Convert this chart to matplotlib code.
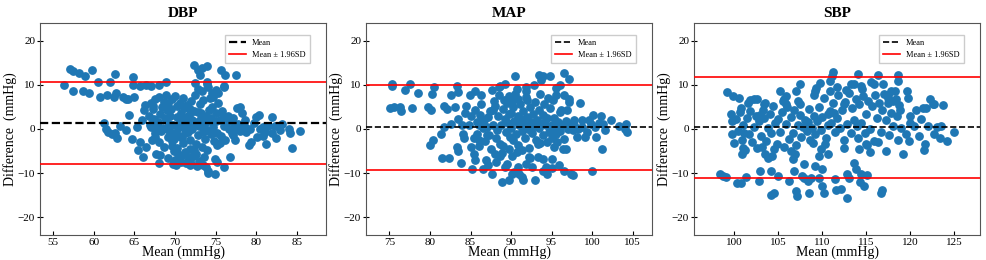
import matplotlib
matplotlib.use("Agg")
import matplotlib.pyplot as plt
import numpy as np

plt.rcParams['font.family'] = ['Liberation Serif', 'DejaVu Serif']

# Bland-Altman points: (mean, difference)
dbp_points = [
    (56.3, 9.9), (57.1, 13.5), (57.5, 13.2), (57.5, 8.6), (58.2, 12.6), (58.7, 8.6),
    (58.9, 12.0), (59.4, 8.2), (59.8, 13.3), (60.5, 10.7), (60.8, 7.3), (61.6, 7.7),
    (62.0, 10.7), (62.6, 12.4), (62.5, 7.2), (62.8, 8.1), (63.6, 7.3), (64.0, 6.9),
    (64.2, 6.7), (64.9, 9.9), (64.9, 11.8), (65.0, 7.2), (65.7, 9.7), (64.3, 3.2),
    (61.3, 1.3), (61.5, -0.1), (61.8, -0.7), (62.2, -1.2), (62.6, -1.0), (62.9, -2.0),
    (63.3, 0.6), (64.0, -0.3), (64.7, -2.2), (65.3, 0.5), (65.4, -4.8), (65.7, -2.9),
    (66.1, -6.3), (66.5, -4.1), (66.0, 2.0), (66.2, 4.3), (66.3, 5.4), (66.5, 9.9),
    (67.1, 9.7), (67.3, 5.1), (67.3, 1.6), (67.1, 0.5), (67.5, -1.8), (67.7, -5.7),
    (68.1, -7.7), (68.1, 9.9), (68.9, 10.7), (69.8, -7.9), (67.9, 0.5),
    (72.3, 14.5), (72.9, 13.4), (73.3, 13.7), (74.0, 14.3), (73.1, 12.2), (72.5, 10.5),
    (73.9, 10.7), (74.1, 9.4), (73.3, 8.5), (74.7, 7.2), (75.0, 8.8), (75.3, 8.2),
    (75.7, 13.4), (76.2, 12.2), (77.5, 12.3), (76.0, 9.7),
    (78.0, 5.0), (78.3, 3.6), (78.6, 2.0), (78.8, -0.7), (79.1, -3.7), (79.4, -2.9),
    (80.0, 2.7), (80.3, 3.2), (80.1, -1.8), (80.5, 0.1), (80.9, 0.5), (81.1, -0.6),
    (81.2, -3.5), (81.9, 2.8), (81.9, -0.9), (82.3, 0.6), (82.5, -2.0), (82.9, -0.2),
    (83.2, 1.1), (84.0, 0.1), (84.2, -1.0), (84.4, -4.4), (85.4, -0.4), (81.5, 0.7),
    (80.9, -1.6), (79.7, 1.3), (79.3, -0.1), (78.6, 0.5), (78.2, 0.9), (77.7, 0.1),
    (77.2, -1.4), (77.4, -2.5), (76.8, -6.3), (76.0, -8.5), (75.2, -7.4), (75.2, -3.6),
    (75.6, -3.2), (74.9, -10.1), (74.1, -10.0), (73.5, -8.2), (73.1, -7.8), (71.9, -8.2),
    (70.1, -8.2),
    (66.8, 3.0), (67.0, 6.0), (67.2, -2.5), (67.4, 2.2), (66.9, 0.8), (67.3, 4.5),
    (67.6, -1.0), (67.5, 6.8), (68.0, 7.2), (68.2, 3.5), (67.9, 1.5), (68.3, -0.5),
    (68.1, -3.0), (68.4, 5.0), (68.5, 0.3), (68.6, 6.2), (68.2, -5.8), (68.8, 2.5),
    (69.0, 4.2), (68.9, 7.8), (69.1, -1.8), (69.0, 0.0), (68.7, -4.0), (69.2, 5.8),
    (69.3, 1.2), (69.1, -6.5), (69.4, 3.0), (69.6, 6.8), (69.7, -2.8), (69.8, 1.0),
    (69.5, 4.6), (70.0, 7.5), (70.1, -0.8), (69.9, -5.0), (70.2, 2.8), (70.0, -7.0),
    (70.3, 5.2), (69.7, -3.8), (70.4, 0.3), (70.2, -4.3), (70.6, 6.0), (70.7, 3.6),
    (70.5, -1.5), (70.8, -6.0), (70.9, 1.8), (71.0, -3.2), (71.1, 4.8), (70.7, -7.4),
    (71.2, 0.2), (71.0, 7.0), (71.3, -5.3), (71.2, 2.6), (70.9, -2.0), (71.4, -7.8),
    (71.5, 5.5), (71.6, -0.6), (71.7, 3.2), (71.8, -4.6), (71.6, 1.0), (72.0, 6.4),
    (71.9, -2.6), (72.1, 2.0), (72.2, -6.2), (72.0, -8.0), (72.3, 4.0), (72.1, 0.0),
    (71.8, -7.0), (72.5, 7.6), (72.6, -3.4), (72.7, 1.5), (72.8, 3.8), (72.6, -5.6),
    (73.0, 0.6), (72.9, -1.4), (73.1, 5.6), (73.0, -7.2), (73.2, 2.4), (72.7, -8.4),
    (73.3, -4.0), (72.9, 9.0), (73.5, 6.6), (73.6, 0.9), (73.7, -2.2), (73.8, 3.0),
    (73.6, -6.4), (74.0, 10.2), (73.9, -0.2), (74.1, 1.8), (74.0, -4.8), (74.2, 4.4),
    (73.8, -8.6), (74.3, 7.0), (74.1, -9.5), (74.4, -1.2), (74.5, 2.6), (74.6, 5.0),
    (74.7, 0.4), (74.8, -2.8), (75.0, 1.8), (74.9, -6.8), (75.1, 3.6), (75.2, -0.8),
    (74.6, 8.2), (75.3, 6.0), (75.5, 2.0), (75.7, -1.5), (75.8, 4.0), (76.0, 0.6),
    (76.1, 9.6), (75.9, 2.8), (76.2, -2.4), (76.3, 1.4), (76.5, 3.0), (76.7, 0.0),
    (76.9, 1.8), (77.0, -1.0), (77.2, 2.4), (77.4, 0.8), (77.6, 4.8), (77.8, 1.2),
    (78.0, -0.4),
    (69.4, -0.6), (70.5, 1.2), (71.3, -1.0), (72.4, 1.0), (73.4, -0.6), (70.8, 3.0),
    (71.9, 4.6), (73.2, 3.6), (69.9, -2.2), (72.3, -4.8), (70.4, -5.6), (71.6, -6.4),
]

map_points = [
    (75.3, 10.3), (75.3, 9.7), (75.1, 4.8), (75.5, 5.0), (76.3, 5.0), (76.4, 4.1),
    (76.9, 8.8), (77.5, 10.1), (77.8, 4.8), (78.5, 8.2), (79.7, 5.0), (80.1, 4.2),
    (80.0, -3.7), (80.4, -2.4), (80.3, 7.9), (80.5, 9.4), (81.3, -1.1), (81.5, -6.5),
    (81.7, 0.5), (81.7, 5.1), (82.1, 4.6), (82.4, -6.5), (82.6, 1.2), (82.6, 7.8),
    (83.1, 5.0), (83.3, 9.7), (83.4, 8.4), (83.3, -4.1), (83.5, -5.0), (83.5, 2.3),
    (83.8, -7.7), (84.1, -1.1), (84.3, 3.6), (84.5, 5.1), (84.9, 7.6), (85.0, -4.1),
    (85.2, -9.0), (85.5, 8.6), (85.4, -5.7), (85.6, 4.2), (85.8, -1.1), (86.0, -2.6),
    (86.2, 3.1), (86.3, 7.6), (86.5, -9.0), (86.7, 2.1), (86.9, -7.1), (87.0, 0.5),
    (87.3, -1.4), (87.6, 8.9), (87.6, -10.1), (87.8, 4.2), (88.0, -5.6), (88.3, -0.3),
    (88.5, 7.6), (88.7, -3.3), (88.7, 9.7), (88.9, -12.0), (89.1, 6.5), (89.3, 10.3),
    (89.5, -8.0), (89.7, 3.5), (89.8, -11.6), (89.9, -1.8), (90.1, -10.1), (90.3, 6.5),
    (90.5, 11.9), (90.7, -5.2), (90.9, -8.6), (91.0, -10.1), (91.3, -10.9), (91.5, -11.6),
    (91.9, 9.4), (92.0, 6.5), (92.2, -6.3), (92.6, -8.6), (92.9, -11.6), (93.3, -6.3),
    (93.4, 12.2), (93.7, 11.0), (94.0, 11.9), (93.6, -3.2), (94.0, -9.4), (94.3, -8.6),
    (94.5, -10.1), (94.8, 11.9), (95.0, -8.8), (95.1, -6.7), (95.2, 6.5), (95.3, -4.1),
    (95.6, 7.6), (96.0, 9.9), (95.9, -8.2), (96.6, 12.7), (96.6, -9.4), (96.9, 4.4),
    (96.8, -4.5), (97.1, 6.9), (97.2, 11.4), (97.4, -10.1), (97.6, -10.5), (97.6, -0.3),
    (97.8, 2.0), (98.1, -1.8), (98.3, 0.1), (98.5, 5.9), (98.7, 2.0), (99.1, -1.8),
    (99.4, -0.7), (99.6, 2.1), (100.0, -9.5), (100.1, 3.1), (100.4, 0.5), (100.5, -1.8),
    (100.8, 1.4), (101.1, 2.9), (101.2, -4.5), (101.4, 1.2), (101.6, -0.3), (102.4, 2.1),
    (103.3, 0.6), (104.2, 1.1), (104.3, -0.7), (104.1, 0.1),
    (86.5, 0.2), (86.8, -2.8), (87.2, 2.8), (87.5, -4.5), (87.8, 1.0), (88.0, 5.2),
    (88.2, -2.0), (88.4, 3.0), (88.6, -6.0), (88.8, 0.8), (89.0, 4.6), (89.0, -3.8),
    (89.2, 2.2), (89.4, -0.6), (89.5, 6.0), (89.6, 1.4), (89.8, -4.6), (90.0, 3.6),
    (90.0, 0.2), (90.2, -2.6), (90.3, 5.0), (90.4, 1.8), (90.5, 8.0), (90.6, -1.2),
    (90.8, 3.0), (90.9, -3.6), (91.0, 0.8), (91.1, 5.6), (91.2, 2.2), (91.3, -0.4),
    (91.5, 4.0), (91.6, 1.2), (91.7, -2.0), (91.8, 7.2), (92.0, 2.8), (92.1, 0.0),
    (92.2, -4.2), (92.3, 5.0), (92.5, 1.6), (92.6, -1.0), (92.7, 3.4), (92.9, 0.6),
    (93.0, 6.2), (93.1, -2.4), (93.2, 2.0), (93.4, 4.4), (93.5, 0.2), (93.6, 8.0),
    (93.8, 1.4), (93.9, -1.4), (94.0, 3.2), (94.1, 5.6), (94.3, 0.8), (94.4, -3.0),
    (94.5, 2.4), (94.7, -0.6), (94.8, 4.8), (95.0, 1.0), (95.1, -2.0), (95.3, 2.6),
    (95.4, 0.2), (95.6, -1.2), (95.8, 1.6), (96.0, 3.8), (96.1, -0.4), (96.3, 0.9),
    (96.5, 7.6), (96.6, -2.2), (96.8, 1.8), (97.0, 0.0), (97.2, 6.2), (97.4, 1.2),
    (85.4, -2.0), (85.8, 1.6), (86.1, -3.8), (86.3, 5.6), (87.0, -1.4), (87.4, 4.0),
    (88.1, -7.5), (88.9, -5.5), (89.3, -8.5), (90.1, -6.2), (91.4, -4.8), (92.4, -6.6),
    (93.3, -3.4), (87.9, 6.4), (88.5, 9.5), (90.7, 9.0), (91.9, 8.6), (92.8, 10.0),
    (94.6, 7.0), (95.5, 9.2), (96.2, 4.4), (89.7, 7.4), (90.9, 6.8), (87.2, -8.2),
    (86.0, 0.8), (84.8, 1.0), (84.2, -2.0), (83.9, 0.8), (85.1, 3.0), (85.6, -7.0),
    (91.8, -8.0), (90.4, -9.8), (93.9, -6.8), (97.8, 0.8), (98.8, 0.4), (99.9, 1.2),
    (96.4, -4.5), (95.7, -3.0),
]

sbp_points = [
    (98.4, -10.2), (98.7, -10.6), (99.0, -10.8), (99.1, 8.4), (99.6, 3.3), (99.7, 1.8),
    (99.8, 7.4), (99.7, -1.2), (99.9, -3.1), (100.3, -12.3), (100.7, -12.3), (100.5, 7.1),
    (100.7, 4.8), (101.0, -4.2), (101.3, -10.8), (101.5, 5.9), (101.8, 6.5), (102.2, 6.7),
    (102.6, 6.7), (102.8, -11.7), (102.9, -9.5), (103.3, 5.6), (103.5, -5.7), (103.8, -6.5),
    (104.1, -9.5), (104.2, -15.0), (104.5, -14.6), (104.5, -4.6), (104.9, -10.6), (105.2, 8.6),
    (105.6, 6.7), (105.8, 5.6), (105.9, 7.4), (106.2, -11.7), (106.4, -5.0), (106.6, -6.8),
    (106.8, -9.5), (107.0, 8.6), (107.0, -14.1), (107.1, -15.1), (107.2, 6.3), (107.4, 10.1),
    (107.7, -10.6), (107.9, -8.0), (107.9, -11.0), (108.3, -11.7), (108.5, -14.4), (108.7, -11.0),
    (108.9, -3.1), (109.1, 8.7), (109.2, -8.3), (109.3, 9.3), (109.6, -11.0), (109.6, -6.1),
    (109.8, -4.6), (110.0, -9.1), (109.7, 10.5), (110.0, -12.9), (110.2, -14.4), (110.6, 3.3),
    (110.6, -5.7), (110.8, 8.6), (110.9, 10.8), (111.1, 12.0), (111.2, 13.0), (111.4, -11.4),
    (111.5, -13.9), (111.7, 9.5), (112.1, -13.5), (112.4, 5.6), (112.7, 8.9), (112.8, -10.2),
    (112.8, -15.6), (113.0, -11.0), (113.2, 10.1), (113.6, 10.2), (113.6, -7.6), (113.8, -9.1),
    (114.0, 12.5), (114.2, -4.6), (114.3, -12.1), (114.4, -10.2), (114.4, 9.7), (114.7, -12.9),
    (114.9, -3.5), (115.1, -10.4), (115.4, -5.3), (115.5, 10.7), (115.9, 10.1), (116.3, 12.2),
    (116.7, -14.4), (116.8, -13.9), (116.9, 10.2), (117.2, -5.0), (117.4, 7.1), (117.8, 8.7),
    (118.0, 6.3), (118.2, 8.6), (118.5, 2.9), (118.6, 12.2), (118.6, 10.8), (118.7, 5.4),
    (118.9, 0.2), (119.2, -5.7), (119.5, -1.2), (119.6, 8.7), (119.7, 7.1), (119.8, -2.7),
    (119.9, 2.9), (120.0, 1.4), (120.6, 4.4), (121.0, -1.6), (121.2, 2.2), (121.4, 4.8),
    (121.5, -4.8), (121.6, -3.3), (121.8, 4.8), (122.0, 0.7), (122.2, 6.9), (122.6, 5.7),
    (122.7, 5.7), (122.7, -1.1), (123.0, 0.5), (123.3, -2.0), (123.5, 0.7), (123.7, 5.4),
    (124.2, -2.7), (124.9, -0.6), (120.4, 0.7),
    (100.2, 2.2), (100.4, -0.4), (100.6, 3.8), (100.8, -2.6), (101.0, 1.0), (101.2, -4.8),
    (101.4, 2.6), (101.6, -1.2), (101.8, 4.0), (102.0, -3.0), (102.2, 0.4), (102.4, 3.0),
    (102.6, -4.4), (101.1, -0.8), (100.9, -5.6), (102.8, 1.8), (103.0, -1.6), (103.2, 4.2),
    (103.4, 2.6), (103.6, -2.8), (103.8, 0.2), (104.0, 3.4), (104.2, -1.0), (104.4, 5.2),
    (104.6, 1.4), (104.8, -3.4), (105.0, 2.2), (103.1, -4.0), (104.3, -6.2), (103.5, 6.0),
    (102.9, 3.2), (105.2, -0.6), (105.4, 3.8), (105.6, -4.0), (105.8, 1.2), (106.0, 5.0),
    (106.2, -2.2), (106.4, 2.8), (106.6, -0.8), (106.8, 4.4), (107.0, -3.6), (107.2, 1.0),
    (107.4, 3.2), (107.6, -1.8), (107.8, 0.4), (108.0, 2.0), (105.5, 6.4), (106.9, -5.6),
    (107.5, 5.6), (108.2, -0.4), (108.4, 1.6), (108.6, -2.6), (108.8, 0.2), (109.0, 3.0),
    (109.2, -1.2), (109.4, 1.8), (109.6, 5.0), (109.8, -0.2), (110.0, 2.8), (110.2, 7.0),
    (110.4, -2.0), (110.6, 0.8), (110.8, 4.0), (111.0, 1.4), (109.0, 7.8), (108.5, 4.6),
    (110.3, -3.4), (111.2, 6.0), (111.4, -0.6), (111.6, 2.4), (111.8, 7.6), (112.0, 0.2),
    (112.2, 4.4), (112.4, -2.4), (112.6, 6.2), (112.8, 1.2), (113.0, 8.2), (113.2, -0.8),
    (113.4, 4.8), (113.6, 2.0), (113.8, 6.8), (114.0, -2.0), (111.3, 3.6), (112.5, -4.2),
    (113.9, 0.6), (114.2, 5.6), (114.4, 1.4), (114.6, 7.4), (114.8, -1.0), (115.0, 3.4),
    (115.2, 6.4), (115.4, 0.0), (115.6, 5.2), (115.8, -2.8), (116.0, 7.8), (116.2, 2.6),
    (116.4, 6.0), (116.6, -0.6), (116.8, 4.4), (117.0, 8.0), (115.1, -3.6), (116.3, -3.0),
    (114.5, 9.0), (117.2, 2.0), (117.4, 5.8), (117.6, -1.4), (117.8, 3.6), (118.0, 0.6),
    (118.3, 6.8), (118.6, -2.6), (118.8, 4.2), (117.5, 7.6),
]

titles = ['DBP', 'MAP', 'SBP']
mean_diff = [1.4, 0.4, 0.5]
upper_loa = [10.7, 10.0, 11.8]
lower_loa = [-7.9, -9.2, -11.1]
x_limits = [(53.4, 88.6), (72.1, 107.4), (95.4, 127.9)]
x_ticks = [[55, 60, 65, 70, 75, 80, 85],
           [75, 80, 85, 90, 95, 100, 105],
           [100, 105, 110, 115, 120, 125]]
y_ticks = [-20, -10, 0, 10, 20]

fig = plt.figure(figsize=(9.86, 2.6), dpi=100)
lefts = [40/986, 366/986, 694/986]
all_points = [dbp_points, map_points, sbp_points]

for i in range(3):
    ax = fig.add_axes([lefts[i], 25/260, 286/986, 212/260])
    pts = np.array(all_points[i])
    ax.scatter(pts[:, 0], pts[:, 1], s=28, color='#1f77b4', zorder=2)
    mlw = 1.6 if i == 0 else 1.2
    ax.axhline(mean_diff[i], color='black', linestyle='--', linewidth=mlw, label='Mean', zorder=3)
    ax.axhline(upper_loa[i], color='red', linewidth=1.2, label='Mean ± 1.96SD', zorder=3)
    ax.axhline(lower_loa[i], color='red', linewidth=1.2, zorder=3)
    ax.set_xlim(*x_limits[i])
    ax.set_ylim(-24, 24)
    ax.set_xticks(x_ticks[i])
    ax.set_yticks(y_ticks)
    ax.tick_params(axis='x', direction='in', labelsize=8, length=3, pad=2)
    ax.tick_params(axis='y', direction='inout', labelsize=8, length=4, pad=1.5)
    for sp in ax.spines.values():
        sp.set_color('#555555')
    ax.set_title(titles[i], fontsize=11, fontweight='bold', pad=4)
    ax.set_xlabel('Mean (mmHg)', fontsize=10, labelpad=-1)
    ax.set_ylabel('Difference  (mmHg)', fontsize=10)
    ax.yaxis.set_label_coords(-0.08, 0.5)
    ax.legend(loc='upper right', bbox_to_anchor=(0.944, 0.943), borderaxespad=0,
              fontsize=6, fancybox=False, framealpha=1, edgecolor='#cccccc',
              handlelength=2.0, borderpad=0.5, labelspacing=0.4)

fig.savefig('out.png', dpi=100)
